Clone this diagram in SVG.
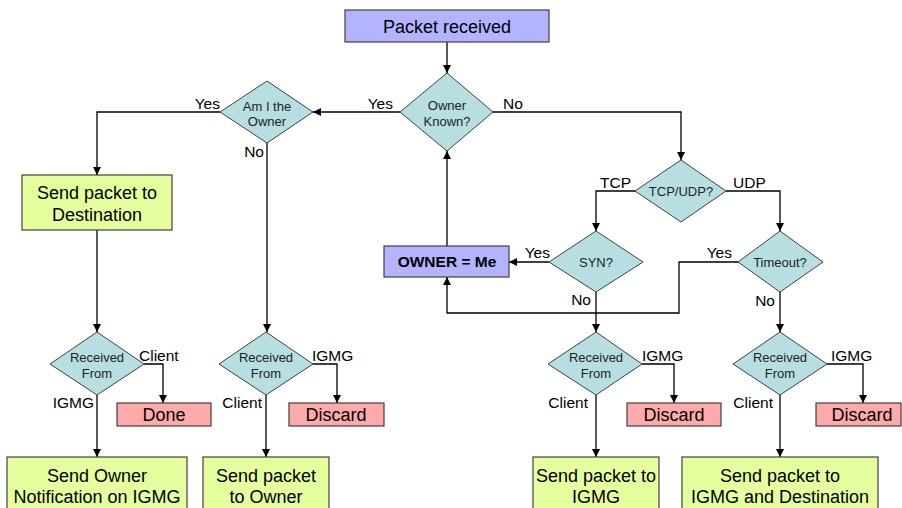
<svg xmlns="http://www.w3.org/2000/svg" width="902" height="508" viewBox="0 0 902 508">
<style>
.box{stroke:#404040;stroke-width:1.2}
.blue{fill:#B3B3FF}
.green{fill:#E6FF9E}
.red{fill:#FFAAAA}
.dia{fill:#B7DFE1;stroke:#404040;stroke-width:1}
.bt{font-family:"Liberation Sans",Arial,sans-serif;font-size:18px;fill:#000;text-anchor:middle}
.dt{font-family:"Liberation Sans",Arial,sans-serif;font-size:13px;fill:#222;text-anchor:middle}
.lb{font-family:"Liberation Sans",Arial,sans-serif;font-size:15.5px;fill:#000}
.e{text-anchor:end}
.c{fill:none;stroke:#000;stroke-width:1.3}
</style>
<defs>
<marker id="ah" viewBox="0 0 10 10" refX="10" refY="5" markerWidth="8" markerHeight="8" markerUnits="userSpaceOnUse" orient="auto">
<path d="M0,0 L10,5 L0,10 z" fill="#000"/>
</marker>
</defs>
<g id="connectors">
<path class="c" d="M447,42 V73" marker-end="url(#ah)"/>
<path class="c" d="M400,112 H313" marker-end="url(#ah)"/>
<path class="c" d="M220,112 H97 V175" marker-end="url(#ah)"/>
<path class="c" d="M97,230 V332" marker-end="url(#ah)"/>
<path class="c" d="M267,143 V332" marker-end="url(#ah)"/>
<path class="c" d="M144,364 H163 V403" marker-end="url(#ah)"/>
<path class="c" d="M97,395 V457" marker-end="url(#ah)"/>
<path class="c" d="M313,364 H337 V403" marker-end="url(#ah)"/>
<path class="c" d="M266,395 V457" marker-end="url(#ah)"/>
<path class="c" d="M493,112 H681 V160" marker-end="url(#ah)"/>
<path class="c" d="M635,191 H596 V231" marker-end="url(#ah)"/>
<path class="c" d="M726,191 H780 V231" marker-end="url(#ah)"/>
<path class="c" d="M549,262 H509" marker-end="url(#ah)"/>
<path class="c" d="M447,246 V151" marker-end="url(#ah)"/>
<path class="c" d="M738,262 H679 V313 H447 V277" marker-end="url(#ah)"/>
<path class="c" d="M596,292 V332" marker-end="url(#ah)"/>
<path class="c" d="M780,292 V332" marker-end="url(#ah)"/>
<path class="c" d="M642,364 H674 V403" marker-end="url(#ah)"/>
<path class="c" d="M596,395 V457" marker-end="url(#ah)"/>
<path class="c" d="M827,364 H863 V403" marker-end="url(#ah)"/>
<path class="c" d="M780,395 V457" marker-end="url(#ah)"/>
<text class="lb e" x="220" y="109">Yes</text>
<text class="lb e" x="393" y="109">Yes</text>
<text class="lb" x="503" y="109">No</text>
<text class="lb e" x="264" y="157">No</text>
<text class="lb e" x="631" y="188">TCP</text>
<text class="lb" x="733" y="188">UDP</text>
<text class="lb e" x="550" y="258">Yes</text>
<text class="lb e" x="591" y="305">No</text>
<text class="lb e" x="732" y="258">Yes</text>
<text class="lb e" x="775" y="306">No</text>
<text class="lb" x="139" y="361">Client</text>
<text class="lb e" x="94" y="408">IGMG</text>
<text class="lb" x="312" y="361">IGMG</text>
<text class="lb e" x="262" y="408">Client</text>
<text class="lb" x="642" y="361">IGMG</text>
<text class="lb e" x="588" y="408">Client</text>
<text class="lb" x="831" y="361">IGMG</text>
<text class="lb e" x="773" y="408">Client</text>
</g>
<g id="packet-received">
<rect class="box blue" x="345" y="10" width="204" height="32"/>
<text class="bt" x="447" y="33">Packet received</text>
</g>
<g id="owner-known">
<polygon class="dia" points="447,73 493,112 447,151 400,112"/>
<text class="dt" x="447" y="110">Owner</text>
<text class="dt" x="447" y="126">Known?</text>
</g>
<g id="am-i-owner">
<polygon class="dia" points="267,81 313,112 267,143 220,112"/>
<text class="dt" x="267" y="111">Am I the</text>
<text class="dt" x="267" y="126">Owner</text>
</g>
<g id="send-destination">
<rect class="box green" x="22" y="175" width="150" height="55"/>
<text class="bt" x="97" y="199">Send packet to</text>
<text class="bt" x="97" y="221">Destination</text>
</g>
<g id="tcp-udp">
<polygon class="dia" points="681,160 726,191 681,222 635,191"/>
<text class="dt" x="681" y="196">TCP/UDP?</text>
</g>
<g id="owner-me">
<rect class="box blue" x="384" y="246" width="125" height="31"/>
<text class="bt" x="447" y="267" style="font-weight:bold;font-size:15.5px">OWNER = Me</text>
</g>
<g id="syn">
<polygon class="dia" points="596,231 643,262 596,292 549,262"/>
<text class="dt" x="596" y="267">SYN?</text>
</g>
<g id="timeout">
<polygon class="dia" points="780,231 823,262 780,292 738,262"/>
<text class="dt" x="780" y="267">Timeout?</text>
</g>
<g id="received-from-1">
<polygon class="dia" points="97,332 144,364 97,395 50,364"/>
<text class="dt" x="97" y="362">Received</text>
<text class="dt" x="97" y="378">From</text>
</g>
<g id="done">
<rect class="box red" x="117" y="403" width="94" height="23"/>
<text class="bt" x="164" y="421">Done</text>
</g>
<g id="send-owner-notification">
<rect class="box green" x="7" y="457" width="180" height="56"/>
<text class="bt" x="97" y="482">Send Owner</text>
<text class="bt" x="97" y="503">Notification on IGMG</text>
</g>
<g id="received-from-2">
<polygon class="dia" points="266,332 313,364 266,395 219,364"/>
<text class="dt" x="266" y="362">Received</text>
<text class="dt" x="266" y="378">From</text>
</g>
<g id="discard-2">
<rect class="box red" x="289" y="403" width="95" height="23"/>
<text class="bt" x="336" y="421">Discard</text>
</g>
<g id="send-owner">
<rect class="box green" x="203" y="457" width="126" height="56"/>
<text class="bt" x="266" y="482">Send packet</text>
<text class="bt" x="266" y="503">to Owner</text>
</g>
<g id="received-from-3">
<polygon class="dia" points="596,332 642,364 596,395 548,364"/>
<text class="dt" x="596" y="362">Received</text>
<text class="dt" x="596" y="378">From</text>
</g>
<g id="discard-3">
<rect class="box red" x="627" y="403" width="94" height="23"/>
<text class="bt" x="674" y="421">Discard</text>
</g>
<g id="send-igmg">
<rect class="box green" x="533" y="457" width="126" height="56"/>
<text class="bt" x="596" y="482">Send packet to</text>
<text class="bt" x="596" y="503">IGMG</text>
</g>
<g id="received-from-4">
<polygon class="dia" points="780,332 827,364 780,395 733,364"/>
<text class="dt" x="780" y="362">Received</text>
<text class="dt" x="780" y="378">From</text>
</g>
<g id="discard-4">
<rect class="box red" x="816" y="403" width="85" height="23"/>
<text class="bt" x="862" y="421">Discard</text>
</g>
<g id="send-igmg-destination">
<rect class="box green" x="682" y="457" width="196" height="56"/>
<text class="bt" x="780" y="482">Send packet to</text>
<text class="bt" x="780" y="503">IGMG and Destination</text>
</g>
</svg>
